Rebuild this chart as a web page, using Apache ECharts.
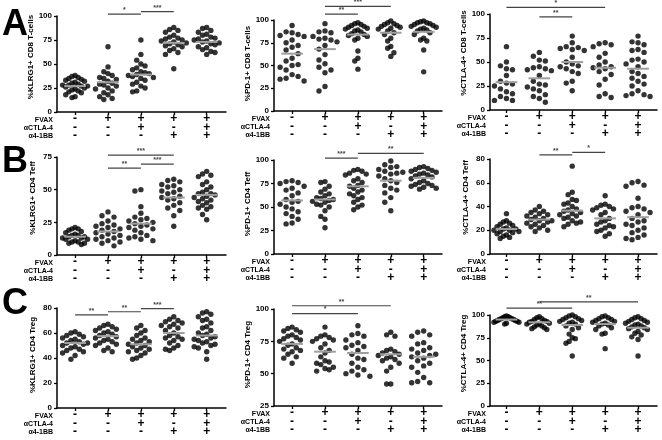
<!DOCTYPE html>
<html><head><meta charset="utf-8">
<script src="https://cdn.jsdelivr.net/npm/echarts@6/dist/echarts.min.js"></script>
<style>html,body{margin:0;padding:0;background:#fff}#c{width:662px;height:440px}</style>
</head><body><div id="c"></div>
<script>
// ---- treatment table (x-axis rows) ----
const rowNames = ['FVAX', 'αCTLA-4', 'α4-1BB'];
const rowFVAX  = ['-', '+', '+', '+', '+'];
const rowCTLA4 = ['-', '-', '+', '-', '+'];
const row41BB  = ['-', '-', '-', '+', '+'];
const categories = [1, 2, 3, 4, 5];

// ---- A: CD8 T-cells ----
const A1name = '%KLRG1+ CD8 T-cells';
const A1ticks = [0, 25, 50, 75, 100];
const A1g1 = [38,37,36,35,34,33,32,31,30,29,28,28,27,27,26,25,24,23,22,21,20,18,16,15];
const A1g2 = [68,47,42,40,38,36,35,34,32,30,29,28,27,25,24,22,20,18,16,14,13];
const A1g3 = [75,60,54,50,48,46,44,42,41,40,39,38,37,36,35,33,31,29,27,25,22,21];
const A1g4 = [88,86,85,83,80,78,77,76,75,74,73,72,71,70,69,68,66,64,62,60,45];
const A1g5 = [88,87,85,83,81,80,78,77,76,75,74,73,72,71,70,68,67,65,63,62,60];
const A1mean = [27, 31, 39, 72, 73];
const A1sig = [[2, 3, 102, '*'], [3, 4, 104.5, '***']];

const A2name = '%PD-1+ CD8 T-cells';
const A2ticks = [0, 25, 50, 75, 100];
const A2g1 = [94,87,86,84,83,82,78,75,72,70,67,63,58,55,51,50,48,45,40,38,36,35,33];
const A2g2 = [96,88,87,86,82,80,79,78,76,72,68,62,56,52,48,45,42,27,22];
const A2g3 = [97,96,95,94,93,92,91,90,89,88,87,85,84,83,82,80,78,66,58,55,46];
const A2g4 = [99,97,96,95,94,93,92,91,90,88,86,84,80,77,71,69,64,60];
const A2g5 = [99,98,97,97,96,95,94,93,92,91,90,89,88,86,84,80,78,77,67,43];
const A2mean = [63, 68, 84, 86, 87];
const A2sig = [[2, 3, 106.5, '**'], [2, 4, 115, '***']];

const A3name = '%CTLA-4+ CD8 T-cells';
const A3ticks = [0, 25, 50, 75, 100];
const A3g1 = [66,50,46,43,42,36,30,28,27,25,22,19,17,14,12,10,10];
const A3g2 = [60,56,52,51,45,44,43,42,41,36,30,27,26,24,22,20,16,14,12,8];
const A3g3 = [77,70,66,65,64,63,62,55,50,48,46,45,43,40,38,30,28,20];
const A3g4 = [70,69,68,66,59,55,50,47,45,44,43,40,37,32,26,17,14,13];
const A3g5 = [77,71,70,68,63,62,60,53,52,50,48,45,40,38,35,33,30,27,25,20,17,16,15,14];
const A3mean = [29, 33, 50, 44, 43];
const A3sig = [[2, 3, 97, '**'], [1, 4, 107, '*']];

// ---- B: CD4 Teff ----
const B1name = '%KLRG1+ CD4 Teff';
const B1ticks = [0, 25, 50, 75];
const B1g1 = [21,20,20,19,18,17,16,15,15,14,14,13,13,12,12,11,10,10,9,9,8];
const B1g2 = [33,30,29,26,24,23,22,21,20,19,18,17,16,15,14,13,12,11,10,9,7];
const B1g3 = [50,49,37,32,29,28,27,26,25,24,23,22,21,20,19,17,15,14,13,12,11];
const B1g4 = [58,57,56,54,53,52,50,49,48,47,45,44,43,42,40,38,36,34,30,22];
const B1g5 = [64,62,61,60,56,54,52,50,48,47,47,46,45,44,43,42,41,40,38,37,36,35,31,27];
const B1mean = [14, 18, 24, 44, 46];
const B1sig = [[2, 4, 76.5, '***'], [2, 3, 66.5, '**'], [3, 4, 69.5, '***']];

const B2name = '%PD-1+ CD4 Teff';
const B2ticks = [0, 25, 50, 75, 100];
const B2g1 = [78,77,76,75,72,70,68,65,62,58,56,55,53,50,48,45,43,40,37,33,32];
const B2g2 = [77,76,72,69,66,64,62,60,59,58,57,56,55,53,52,50,46,40,37,28];
const B2g3 = [90,89,88,86,85,84,80,78,76,73,72,70,68,66,64,62,60,58,55,52,50,47];
const B2g4 = [99,95,93,92,90,88,87,86,85,83,80,78,76,73,70,68,65,60,55,46];
const B2g5 = [93,92,91,90,89,88,87,86,85,84,83,82,80,78,76,75,74,73,72,71,70,69];
const B2mean = [57, 58, 72, 78, 81];
const B2sig = [[2, 3, 102, '***'], [3, 5, 107, '**']];

const B3name = '%CTLA-4+ CD4 Teff';
const B3ticks = [0, 20, 40, 60, 80];
const B3g1 = [34,28,27,26,25,24,23,22,21,21,20,20,19,19,18,17,16,15,14,13];
const B3g2 = [40,37,36,35,34,33,32,31,30,29,28,28,27,26,25,24,23,22,20,19];
const B3g3 = [74,52,50,46,45,43,42,40,38,37,36,35,34,33,32,31,30,28,27,26,25,23];
const B3g4 = [49,42,41,40,39,38,37,35,33,30,28,27,25,24,23,22,20,19,17,15];
const B3g5 = [61,60,58,57,47,40,39,38,36,35,33,30,28,27,25,24,22,20,18,16,14,13,12];
const B3mean = [21, 29, 36.5, 30, 31];
const B3sig = [[2, 3, 83.5, '**'], [3, 4, 85.5, '*']];

// ---- C: CD4 Treg ----
const C1name = '%KLRG1+ CD4 Treg';
const C1ticks = [0, 20, 40, 60, 80];
const C1g1 = [61,60,59,58,57,56,55,54,53,52,52,51,50,49,48,47,46,45,44,42,39];
const C1g2 = [67,66,65,64,63,62,61,60,59,58,57,56,55,54,53,52,51,50,48,46,45];
const C1g3 = [66,64,62,60,58,56,55,54,53,52,51,50,49,48,47,46,45,44,42,40,39];
const C1g4 = [73,71,70,69,68,67,66,65,64,62,60,58,57,56,55,54,52,50,48,47,46];
const C1g5 = [77,76,75,73,71,70,68,65,64,62,60,59,58,57,56,55,54,53,52,51,50,49,48,45,39];
const C1mean = [52, 57.5, 51, 60, 58];
const C1sig = [[1, 2, 74.5, '**'], [2, 3, 77, '**'], [3, 4, 79.5, '***']];

const C2name = '%PD-1+ CD4 Treg';
const C2ticks = [25, 50, 75, 100];
const C2g1 = [86,85,84,83,82,80,79,78,77,76,75,73,72,70,69,68,67,65,63,62,58];
const C2g2 = [86,80,79,78,77,76,75,73,70,68,66,63,60,59,58,57,55,54,53,52];
const C2g3 = [87,81,80,79,76,74,72,71,70,68,65,62,61,58,55,53,52,50,49,48];
const C2g4 = [82,80,79,69,68,67,66,65,64,63,62,61,60,58,55,52,42,42];
const C2g5 = [83,82,80,79,74,73,70,69,68,66,65,64,63,62,60,58,56,55,51,47,44,43,43];
const C2mean = [73, 67, 66, 65, 63];
const C2sig = [[1, 4, 102.5, '**'], [1, 3, 96.5, '*']];

const C3name = '%CTLA-4+ CD4 Treg';
const C3ticks = [0, 25, 50, 75, 100];
const C3g1 = [99,98,98,97,97,96,96,95,95,94,94,93,93,92,92,91,90];
const C3g2 = [98,97,96,95,94,93,93,92,91,90,90,89,88,87,86,85,84];
const C3g3 = [100,99,98,97,96,95,94,93,92,91,90,88,86,84,79,75,74,71,69,55];
const C3g4 = [99,98,97,96,95,94,93,92,91,90,89,88,86,84,80,79,63];
const C3g5 = [98,97,96,95,94,93,92,91,90,89,88,87,86,85,84,82,80,78,76,73,55];
const C3mean = [95, 92, 89, 90, 86];
const C3sig = [[1, 3, 107.5, '**'], [2, 5, 114.5, '**']];

// ---- layout (pixels) ----
const colX = [{left: 57, width: 169, xmin: 0.45}, {left: 274, width: 168, xmin: 0.45}, {left: 490, width: 167, xmin: 0.5}];
const catStep = 32.9;
const panels = [
  {name: A1name, ticks: A1ticks, groups: [A1g1, A1g2, A1g3, A1g4, A1g5], mean: A1mean, sig: A1sig, col: 0, top: 16, height: 96, nameShift: 7},
  {name: A2name, ticks: A2ticks, groups: [A2g1, A2g2, A2g3, A2g4, A2g5], mean: A2mean, sig: A2sig, col: 1, top: 20, height: 91, nameShift: 2},
  {name: A3name, ticks: A3ticks, groups: [A3g1, A3g2, A3g3, A3g4, A3g5], mean: A3mean, sig: A3sig, col: 2, top: 14, height: 96, nameShift: 9},
  {name: B1name, ticks: B1ticks, groups: [B1g1, B1g2, B1g3, B1g4, B1g5], mean: B1mean, sig: B1sig, col: 0, top: 157, height: 98, nameShift: 8},
  {name: B2name, ticks: B2ticks, groups: [B2g1, B2g2, B2g3, B2g4, B2g5], mean: B2mean, sig: B2sig, col: 1, top: 160, height: 94, nameShift: 3},
  {name: B3name, ticks: B3ticks, groups: [B3g1, B3g2, B3g3, B3g4, B3g5], mean: B3mean, sig: B3sig, col: 2, top: 159, height: 95, nameShift: 9},
  {name: C1name, ticks: C1ticks, groups: [C1g1, C1g2, C1g3, C1g4, C1g5], mean: C1mean, sig: C1sig, col: 0, top: 308, height: 100, nameShift: 3},
  {name: C2name, ticks: C2ticks, groups: [C2g1, C2g2, C2g3, C2g4, C2g5], mean: C2mean, sig: C2sig, col: 1, top: 309, height: 97, nameShift: 3},
  {name: C3name, ticks: C3ticks, groups: [C3g1, C3g2, C3g3, C3g4, C3g5], mean: C3mean, sig: C3sig, col: 2, top: 315, height: 91, nameShift: 7}
];
const panelLetters = [{t: 'A', top: 7}, {t: 'B', top: 144}, {t: 'C', top: 286}];

const FONT = 'Arial, "Liberation Sans", sans-serif';
const DOT = 5.4;
const GAP_X = 5.6;     // horizontal spacing of dots sharing a row (px)
const GAP_Y = 6.5;     // vertical distance under which dots share a row (px)
const MAX_HALF = 12.5; // half-width of a column scatter (px)

// column-scatter layout: horizontal pixel offsets for dots, Prism-like
function swarm(vals, pxPerY) {
  const placed = [];
  vals.slice().sort((a, b) => b - a).forEach(v => {
    const y = v * pxPerY;
    let off = 0;
    for (let k = 0; k < 400; k++) {
      const o = (k % 2 === 1 ? -1 : 1) * Math.ceil(k / 2) * 0.5;
      if (placed.every(([px, py]) => Math.abs(py - y) >= GAP_Y || Math.abs(px - o) >= GAP_X)) { off = o; break; }
    }
    placed.push([off, y, v]);
  });
  const widest = Math.max(...placed.map(d => Math.abs(d[0])), 1e-6);
  const s = widest > MAX_HALF ? MAX_HALF / widest : 1;
  return placed.map(d => [d[0] * s, d[2]]);
}

const option = {animation: false, backgroundColor: '#fff', grid: [], xAxis: [], yAxis: [], series: [], graphic: []};

panels.forEach((p, i) => {
  const c = colX[p.col];
  const ymin = p.ticks[0], ymax = p.ticks[p.ticks.length - 1];
  const interval = p.ticks[1] - p.ticks[0];
  const xmax = c.xmin + c.width / catStep;
  option.grid.push({left: c.left, top: p.top, width: c.width, height: p.height});
  option.xAxis.push({
    type: 'value', gridIndex: i, min: c.xmin, max: xmax,
    splitLine: {show: false},
    axisLine: {onZero: false, lineStyle: {color: '#000', width: 1.5}},
    axisTick: {customValues: categories, length: 3, lineStyle: {color: '#000', width: 1.3}},
    axisLabel: {
      customValues: categories, margin: 3, color: '#000', fontFamily: FONT, fontSize: 12, fontWeight: 'bold', lineHeight: 8.3,
      formatter: v => rowFVAX[v - 1] + '\n' + rowCTLA4[v - 1] + '\n' + row41BB[v - 1]
    }
  });
  option.yAxis.push({
    type: 'value', gridIndex: i, min: ymin, max: ymax, interval: interval,
    splitLine: {show: false},
    axisLine: {show: true, onZero: false, lineStyle: {color: '#000', width: 1.5}},
    axisTick: {show: true, length: 3, lineStyle: {color: '#000', width: 1.3}},
    axisLabel: {margin: 5, color: '#000', fontFamily: FONT, fontSize: 8, fontWeight: 'bold'},
    name: p.name, nameLocation: 'middle', nameGap: 20,
    nameTextStyle: {color: '#000', fontFamily: FONT, fontSize: 8, fontWeight: 'bold', padding: [0, 0, 0, 2 * p.nameShift]}
  });
  const pxPerY = p.height / (ymax - ymin);
  const pts = [];
  p.groups.forEach((g, k) => {
    swarm(g, pxPerY).forEach(([off, v]) => pts.push([categories[k] + off / catStep, v]));
  });
  option.series.push({
    type: 'scatter', xAxisIndex: i, yAxisIndex: i, data: pts, symbol: 'circle', symbolSize: DOT,
    itemStyle: {color: '#000'}, silent: true, z: 2
  });
  option.series.push({
    type: 'custom', xAxisIndex: i, yAxisIndex: i, silent: true, z: 3,
    data: p.mean.map((m, k) => [categories[k], m]), encode: {x: 0, y: 1},
    renderItem: (params, api) => {
      const x = api.value(0), y = api.value(1);
      const a = api.coord([x - 0.33, y]), b = api.coord([x + 0.33, y]);
      return {type: 'line', shape: {x1: a[0], y1: a[1], x2: b[0], y2: b[1]}, style: {stroke: '#a0a0a0', lineWidth: 2}};
    }
  });
  option.series.push({
    type: 'custom', xAxisIndex: i, yAxisIndex: i, silent: true, clip: false, z: 4,
    data: p.sig.map(s => [s[0], s[2]]), encode: {x: 0, y: 1},
    renderItem: (params, api) => {
      const s = p.sig[params.dataIndex];
      const a = api.coord([s[0], s[2]]), b = api.coord([s[1], s[2]]);
      return {type: 'group', children: [
        {type: 'line', shape: {x1: a[0], y1: a[1], x2: b[0], y2: b[1]}, style: {stroke: '#444', lineWidth: 1.2}},
        {type: 'text', x: (a[0] + b[0]) / 2, y: a[1] - 0.5, style: {text: s[3], fontSize: 7, fontWeight: 'bold', fill: '#444', fontFamily: FONT, align: 'center', verticalAlign: 'bottom'}}
      ]};
    }
  });
  // treatment row names
  rowNames.forEach((r, k) => {
    option.graphic.push({type: 'text', right: 662 - (c.left - 4), top: p.top + p.height + 4.3 + k * 8.3,
      style: {text: r, fontFamily: FONT, fontSize: 7, fontWeight: 'bold', fill: '#000', textAlign: 'right'}});
  });
});
panelLetters.forEach(L => option.graphic.push({type: 'text', left: 2, top: L.top,
  style: {text: L.t, fontFamily: FONT, fontSize: 36, fontWeight: 'bold', fill: '#000'}}));

const chart = echarts.init(document.getElementById('c'), null, {renderer: 'canvas'});
chart.setOption(option);
</script></body></html>
